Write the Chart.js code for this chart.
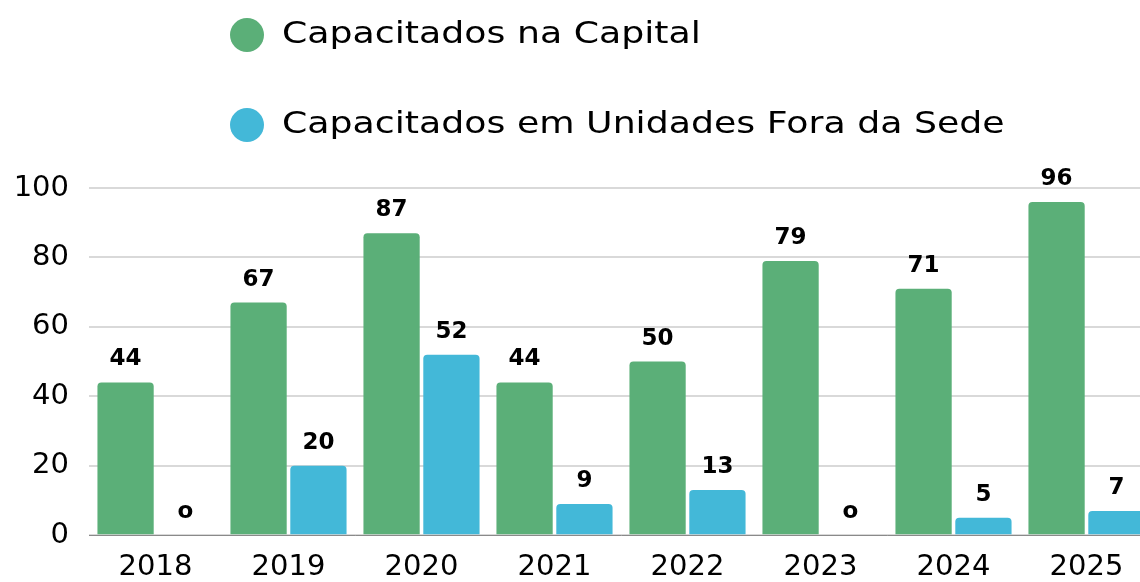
<!DOCTYPE html>
<html lang="pt">
<head>
  <meta charset="UTF-8">
  <title>Capacitados</title>
  <script src="https://cdn.jsdelivr.net/npm/chart.js"></script>
  <style>
    html, body { margin: 0; padding: 0; background: #fff; overflow: hidden; }
    .wrap { position: relative; width: 1153px; height: 600px; }
  </style>
</head>
<body>

<div class="wrap">
  <canvas id="grafico"></canvas>
</div>

<script>
  // dados
  const anos = ['2018', '2019', '2020', '2021', '2022', '2023', '2024', '2025'];
  const capital = [44, 67, 87, 44, 50, 79, 71, 96];
  const foraSede = [0, 20, 52, 9, 13, 0, 5, 7];
  const nomesSeries = ['Capacitados na Capital', 'Capacitados em Unidades Fora da Sede'];
  const coresSeries = ['#5baf78', '#43b8d8'];
  const ticksY = [0, 20, 40, 60, 80, 100];

  const fonteBase = '"DejaVu Sans", sans-serif';

  // legenda desenhada a mao (duas linhas, alinhadas a esquerda)
  const legendaPlugin = {
    id: 'legendaCustom',
    afterDraw(chart) {
      const ctx = chart.ctx;
      chart.data.datasets.forEach((ds, i) => {
        const y = 35 + i * 90;
        ctx.save();
        ctx.beginPath();
        ctx.fillStyle = ds.backgroundColor;
        ctx.arc(247, y, 17, 0, Math.PI * 2);
        ctx.fill();
        ctx.translate(282, y);
        ctx.scale(1.17, 1);
        ctx.fillStyle = '#000';
        ctx.font = '31px ' + fonteBase;
        ctx.textBaseline = 'middle';
        ctx.textAlign = 'left';
        ctx.fillText(ds.label, 0, 0);
        ctx.restore();
      });
    }
  };

  // rotulos de valor em cima das barras
  const rotulosPlugin = {
    id: 'rotulos',
    afterDatasetsDraw(chart) {
      const ctx = chart.ctx;
      ctx.save();
      ctx.font = 'bold 23px ' + fonteBase;
      ctx.fillStyle = '#000';
      ctx.textAlign = 'center';
      ctx.textBaseline = 'alphabetic';
      chart.data.datasets.forEach((ds, i) => {
        const meta = chart.getDatasetMeta(i);
        meta.data.forEach((bar, j) => {
          const v = ds.data[j];
          const txt = v === 0 ? 'o' : String(v);
          ctx.fillText(txt, bar.x, bar.y - 17);
        });
      });
      ctx.restore();
    }
  };

  new Chart(document.getElementById('grafico'), {
    type: 'bar',
    data: {
      labels: anos,
      datasets: [
        {
          label: nomesSeries[0],
          data: capital,
          backgroundColor: coresSeries[0],
          borderRadius: { topLeft: 4, topRight: 4 },
          borderSkipped: 'bottom',
          barPercentage: 0.94,
          categoryPercentage: 0.9
        },
        {
          label: nomesSeries[1],
          data: foraSede,
          backgroundColor: coresSeries[1],
          borderRadius: { topLeft: 4, topRight: 4 },
          borderSkipped: 'bottom',
          barPercentage: 0.94,
          categoryPercentage: 0.9
        }
      ]
    },
    options: {
      responsive: true,
      maintainAspectRatio: false,
      animation: false,
      layout: { padding: { top: 188, left: 15, right: 0, bottom: 0 } },
      plugins: {
        legend: { display: false },
        tooltip: { enabled: false }
      },
      scales: {
        x: {
          grid: { display: false, drawTicks: false },
          border: { display: true, color: '#8a8a8a', width: 1 },
          ticks: {
            color: '#000',
            font: { family: fonteBase, size: 29 },
            padding: 15
          }
        },
        y: {
          min: 0,
          max: 100,
          afterBuildTicks(axis) {
            axis.ticks = ticksY.map(v => ({ value: v }));
          },
          afterFit(axis) {
            axis.width = 74;
          },
          grid: { color: '#d9d9d9', lineWidth: 2, drawTicks: false },
          border: { display: false },
          ticks: {
            color: '#000',
            font: { family: fonteBase, size: 29 },
            padding: 20
          }
        }
      }
    },
    plugins: [legendaPlugin, rotulosPlugin]
  });
</script>

</body>
</html>
